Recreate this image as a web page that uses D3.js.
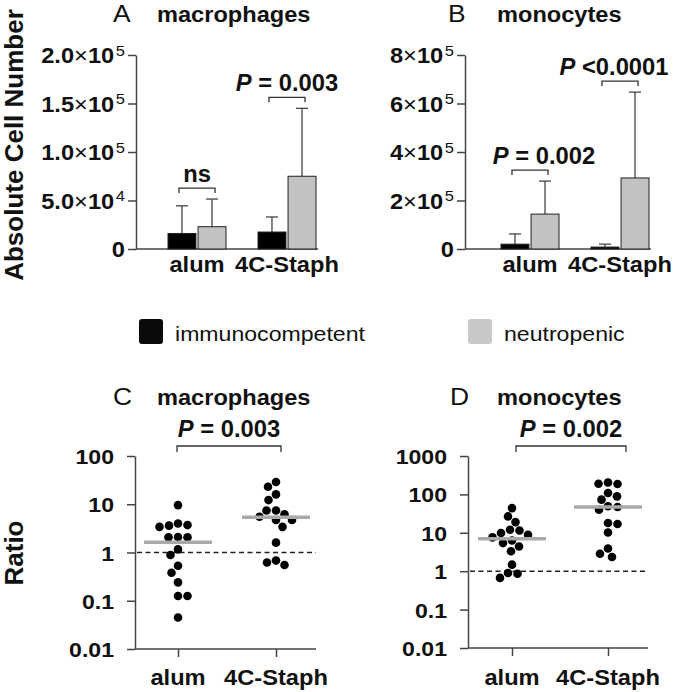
<!DOCTYPE html>
<html><head><meta charset="utf-8">
<script src="https://cdn.jsdelivr.net/npm/d3@7"></script>
<style>
body{margin:0;background:#fff}
svg{display:block}
text{font-family:"Liberation Sans",Arial,Helvetica,sans-serif;fill:#111;white-space:pre}
</style>
</head><body>
<svg id="c" width="680" height="692"></svg>
<script>
// ---------- DATA ----------
const groups = ["alum", "4C-Staph"];
const seriesNames = ["immunocompetent", "neutropenic"];

// Panel A: macrophages, absolute cell number (mean and SD)
const macroMeanImmuno = [16000, 17500];
const macroSdImmuno   = [28500, 15500];
const macroMeanNeutro = [23000, 75000];
const macroSdNeutro   = [28500, 70000];
const macroTicks    = [0, 50000, 100000, 150000, 200000];
const macroTickMant = ["0", "5.0", "1.0", "1.5", "2.0"];
const macroTickExp  = ["", "4", "5", "5", "5"];
const macroBarP     = ["ns", "P = 0.003"];

// Panel B: monocytes, absolute cell number
const monoMeanImmuno = [20000, 8000];
const monoSdImmuno   = [42000, 12000];
const monoMeanNeutro = [144000, 293000];
const monoSdNeutro   = [136000, 354000];
const monoTicks    = [0, 200000, 400000, 600000, 800000];
const monoTickMant = ["0", "2", "4", "6", "8"];
const monoTickExp  = ["", "5", "5", "5", "5"];
const monoBarP     = ["P = 0.002", "P <0.0001"];

// Panel C: macrophages ratio (neutropenic / immunocompetent)
const macroRatioAlum = [9.6, 4.0, 3.6, 3.4, 3.7, 2.1, 2.07, 2.07, 1.16, 0.89, 0.53, 0.38, 0.24, 0.125, 0.125, 0.045];
const macroRatio4C   = [29, 23, 16, 12.2, 7.4, 7.4, 6.2, 5.5, 4.7, 4.7, 3.4, 1.6, 0.68, 0.55, 0.62];
const macroRatioCenter = [1.63, 5.4];
const macroRatioTicks  = [0.01, 0.1, 1, 10, 100];
const macroRatioLabels = ["0.01", "0.1", "1", "10", "100"];
const macroRatioP = "P = 0.003";

// Panel D: monocytes ratio
const monoRatioAlum = [44, 26.7, 19, 11.5, 12, 8.9, 9.9, 6.3, 7.6, 5.4, 4.4, 3.3, 1.48, 0.9, 0.67, 0.86];
const monoRatio4C   = [205, 186, 190, 89, 109, 73, 49, 40, 47, 17, 18, 10.2, 3.9, 2.35, 2.85];
const monoRatioCenter = [7.0, 47];
const monoRatioTicks  = [0.01, 0.1, 1, 10, 100, 1000];
const monoRatioLabels = ["0.01", "0.1", "1", "10", "100", "1000"];
const monoRatioP = "P = 0.002";

// ---------- DRAWING ----------
const svg = d3.select("#c");
const AX = "#444";
const color = d3.scaleOrdinal().domain(seriesNames).range(["#000000", "#c2c2c2"]);

function T(parent, x, y, str, o = {}) {
  const t = parent.append("text")
    .attr("transform", `translate(${x},${y}) scale(${o.k || 1},1)`)
    .attr("text-anchor", o.anchor || "start")
    .style("font-size", (o.size || 20) + "px")
    .style("font-weight", o.weight || "bold");
  if (o.dy) t.attr("dy", o.dy);
  if (str != null) t.text(str);
  return t;
}
function pText(parent, x, y, label, o) {
  const t = T(parent, x, y, null, o);
  if (label.startsWith("P")) {
    t.append("tspan").style("font-style", "italic").text("P");
    t.append("tspan").text(label.slice(1));
  } else t.text(label);
  return t;
}
function bracket(g, x1, x2, y, leg) {
  g.append("path").attr("d", `M${x1},${y + leg}V${y}H${x2}V${y + leg}`)
    .attr("fill", "none").attr("stroke", "#333").attr("stroke-width", 1.3);
}
function styleAxis(ax) {
  ax.select(".domain").attr("stroke", AX).attr("stroke-width", 1.5);
  ax.selectAll(".tick line").attr("stroke", AX).attr("stroke-width", 1.5);
  ax.selectAll(".tick text").remove();
}

function barPanel(cfg, meanI, sdI, meanN, sdN, ticks, mant, expo, pLabels) {
  const g = svg.append("g");
  const y = d3.scaleLinear().domain([0, ticks[ticks.length - 1]]).range([cfg.y0, cfg.y1]);
  const x = d3.scalePoint().domain(groups).range(cfg.xr);
  const inner = d3.scaleBand().domain(seriesNames).range([-29, 29]).paddingInner(0.07);
  const bw = inner.bandwidth();

  const ax = g.append("g").attr("transform", `translate(${cfg.ax},0)`)
    .call(d3.axisLeft(y).tickValues(ticks).tickSize(8).tickSizeOuter(0).tickFormat(() => ""));
  styleAxis(ax);
  ax.selectAll(".tick").each(function (d, i) {
    const t = T(d3.select(this), -11, 0, null, { anchor: "end", k: 1.1, size: 21.5, dy: "0.36em" });
    if (expo[i]) {
      t.append("tspan").text(mant[i]);
      t.append("tspan").style("font-weight", "normal").text("×");
      t.append("tspan").text("10");
      t.append("tspan").attr("dx", 1.5).attr("dy", "-0.5em").style("font-size", "15px")
        .style("font-weight", "normal").text(expo[i]);
    } else t.text(mant[i]);
  });
  // baseline
  g.append("line").attr("x1", cfg.ax).attr("x2", x(groups[1]) + 31)
    .attr("y1", y(0)).attr("y2", y(0)).attr("stroke", AX).attr("stroke-width", 1.5);

  const rows = groups.flatMap((gn, i) => [
    { s: seriesNames[0], g: gn, m: meanI[i], sd: sdI[i] },
    { s: seriesNames[1], g: gn, m: meanN[i], sd: sdN[i] }
  ]);
  const cx = d => x(d.g) + inner(d.s) + bw / 2;
  // error bars
  g.selectAll("line.err").data(rows).join("line").attr("class", "err")
    .attr("x1", cx).attr("x2", cx).attr("y1", d => y(d.m)).attr("y2", d => y(d.m + d.sd))
    .attr("stroke", "#444").attr("stroke-width", 1.3);
  g.selectAll("line.cap").data(rows).join("line").attr("class", "cap")
    .attr("x1", d => cx(d) - 6).attr("x2", d => cx(d) + 6)
    .attr("y1", d => y(d.m + d.sd)).attr("y2", d => y(d.m + d.sd))
    .attr("stroke", "#444").attr("stroke-width", 1.3);
  g.selectAll("rect.bar").data(rows).join("rect").attr("class", "bar")
    .attr("x", d => x(d.g) + inner(d.s)).attr("width", bw)
    .attr("y", d => y(d.m)).attr("height", d => y(0) - y(d.m))
    .attr("fill", d => color(d.s)).attr("stroke", "#222").attr("stroke-width", 1);

  // significance brackets
  groups.forEach((gn, i) => {
    const r = rows.filter(d => d.g === gn);
    const yb = Math.min(...r.map(d => y(d.m + d.sd))) - 11;
    const x1 = cx(r[0]) - 3, x2 = cx(r[1]) + 3;
    bracket(g, x1, x2, yb, 5);
    pText(g, (x1 + x2) / 2 + cfg.pdx[i], yb - 6, pLabels[i], { anchor: "middle", size: 24, k: 0.99 });
  });
  // x labels
  groups.forEach(gn => T(g, x(gn), cfg.y0 + 23, gn, { anchor: "middle", size: 21.5, k: 1.1 }));
}

function swarm(vals, yScale, r) {
  const pts = vals.map((v, i) => ({ v, y: yScale(v), i }));
  const order = pts.slice().sort((a, b) => a.y - b.y);
  const placed = [];
  const minD = 2 * r + 0.6;
  let flip = 1;
  order.forEach(p => {
    let best = null;
    for (let s = 0; s < 80 && best === null; s += 0.5) {
      const cands = s === 0 ? [0] : [s * flip, -s * flip];
      for (const off of cands) {
        if (placed.every(q => (q.dx - off) ** 2 + (q.y - p.y) ** 2 >= minD * minD)) { best = off; break; }
      }
    }
    p.dx = best; flip = -flip; placed.push(p);
  });
  return pts;
}

function ratioPanel(cfg, alumVals, fcVals, centers, ticks, labels, pLabel) {
  const g = svg.append("g");
  const y = d3.scaleLog().domain([ticks[0], ticks[ticks.length - 1]]).range([cfg.y0, cfg.y1]);
  const x = d3.scalePoint().domain(groups).range(cfg.xr);
  const ax = g.append("g").attr("transform", `translate(${cfg.ax},0)`)
    .call(d3.axisLeft(y).tickValues(ticks).tickSize(8).tickSizeOuter(0).tickFormat(() => ""));
  styleAxis(ax);
  ax.selectAll(".tick").each(function (d, i) {
    T(d3.select(this), -21, 0, labels[i], { anchor: "end", k: 1.1, size: 21, dy: "0.36em" });
  });
  const xEnd = x(groups[1]) + 40;
  const xa = g.append("g").attr("transform", `translate(0,${cfg.y0})`)
    .call(d3.axisBottom(x).tickSize(8).tickSizeOuter(0).tickFormat(() => ""));
  styleAxis(xa);
  xa.select(".domain").remove();
  g.append("line").attr("x1", cfg.ax).attr("x2", xEnd).attr("y1", cfg.y0).attr("y2", cfg.y0)
    .attr("stroke", AX).attr("stroke-width", 1.5);
  // reference line at ratio 1
  g.append("line").attr("x1", cfg.ax + 2).attr("x2", xEnd).attr("y1", y(1)).attr("y2", y(1))
    .attr("stroke", "#222").attr("stroke-width", 1.5).attr("stroke-dasharray", "5,3.5");
  // dots
  const r = 4.3;
  [alumVals, fcVals].forEach((vals, gi) => {
    const pts = swarm(vals, y, r);
    g.append("g").selectAll("circle").data(pts).join("circle")
      .attr("cx", d => x(groups[gi]) + d.dx).attr("cy", d => y(d.v)).attr("r", r).attr("fill", "#000");
  });
  // central lines
  g.selectAll("line.ctr").data(centers).join("line").attr("class", "ctr")
    .attr("x1", (d, i) => x(groups[i]) - 34).attr("x2", (d, i) => x(groups[i]) + 34)
    .attr("y1", d => y(d)).attr("y2", d => y(d))
    .attr("stroke", "#a9a9a9").attr("stroke-width", 3.5);
  // bracket
  const yb = cfg.y1 - 10;
  const x1 = x(groups[0]) + cfg.bo[0], x2 = x(groups[1]) + cfg.bo[1];
  bracket(g, x1, x2, yb, 6);
  pText(g, (x1 + x2) / 2, yb - 9, pLabel, { anchor: "middle", size: 24, k: 0.99 });
  groups.forEach(gn => T(g, x(gn), 685, gn, { anchor: "middle", size: 21.5, k: 1.1 }));
}

barPanel({ ax: 136, y0: 249, y1: 55, xr: [197, 287], pdx: [0, 0] },
  macroMeanImmuno, macroSdImmuno, macroMeanNeutro, macroSdNeutro,
  macroTicks, macroTickMant, macroTickExp, macroBarP);
barPanel({ ax: 465, y0: 249, y1: 55, xr: [530, 620], pdx: [14, -6] },
  monoMeanImmuno, monoSdImmuno, monoMeanNeutro, monoSdNeutro,
  monoTicks, monoTickMant, monoTickExp, monoBarP);
ratioPanel({ ax: 135, y0: 649, y1: 456, xr: [178, 276], bo: [-1, 5] },
  macroRatioAlum, macroRatio4C, macroRatioCenter, macroRatioTicks, macroRatioLabels, macroRatioP);
ratioPanel({ ax: 468, y0: 648, y1: 456, xr: [512, 608], bo: [4, 18] },
  monoRatioAlum, monoRatio4C, monoRatioCenter, monoRatioTicks, monoRatioLabels, monoRatioP);

// panel titles
const titles = [
  { l: "A", w: "macrophages", x: 113, x2: 157, y: 22 },
  { l: "B", w: "monocytes", x: 448, x2: 497, y: 22 },
  { l: "C", w: "macrophages", x: 113, x2: 157, y: 405 },
  { l: "D", w: "monocytes", x: 450, x2: 497, y: 405 }
];
titles.forEach(t => {
  T(svg, t.x, t.y, t.l, { size: 24, k: 1.1, weight: "normal" });
  T(svg, t.x2, t.y, t.w, { size: 22.5, k: 1.05 });
});

// y-axis titles
svg.append("text").attr("transform", "translate(23,145) rotate(-90)").attr("text-anchor", "middle")
  .style("font-size", "26px").style("font-weight", "bold").text("Absolute Cell Number");
svg.append("text").attr("transform", "translate(23,553) rotate(-90)").attr("text-anchor", "middle")
  .style("font-size", "26px").style("font-weight", "bold").text("Ratio");

// legend
const legX = [139, 468];
const leg = svg.append("g");
seriesNames.forEach((s, i) => {
  leg.append("rect").attr("x", legX[i]).attr("y", 319).attr("width", 24).attr("height", 25).attr("rx", 3)
    .attr("fill", i === 0 ? "#0a0a0a" : "#c8c8c8");
  T(leg, legX[i] + 36, 341, s, { size: 21, k: 1.1, weight: "normal" });
});
</script>
</body></html>
